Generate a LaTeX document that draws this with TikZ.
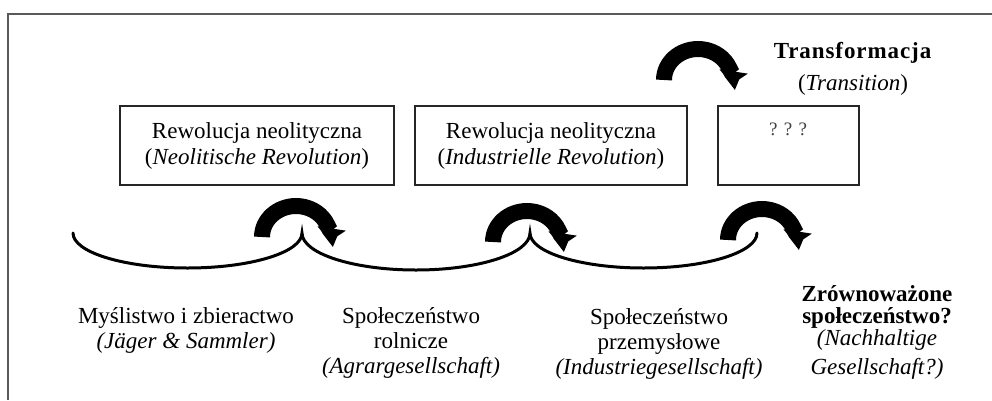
\documentclass[tikz,border=0pt]{standalone}
\usepackage{fontspec}
\setmainfont{Liberation Serif}
\usetikzlibrary{arrows.meta}
\tikzset{
  frame/.style={draw=black!65, line width=2pt},
  box/.style={draw=black!85, line width=1.3pt, rectangle, inner sep=0pt, align=center,
    font=\fontsize{23}{26}\selectfont},
  lbl/.style={align=center, inner sep=0pt, anchor=base, font=\fontsize{23}{25}\selectfont},
  qm/.style={inner sep=0pt, anchor=base, text=black!75, font=\fontsize{19}{22}\selectfont},
  wave/.style={line width=3pt, line cap=round},
  turn/.style={line width=16pt, -{Triangle[length=13pt,width=28pt]}}
}
\begin{document}
\begin{tikzpicture}[x=1pt,y=1pt]
\useasboundingbox (0,0) rectangle (992,-400);
% frame
\coordinate (fr1) at (992,-14);
\coordinate (fr2) at (8,-14);
\coordinate (fr3) at (8,-400);
\draw[frame] (fr1) -- (fr2) -- (fr3);
% boxes
\node[box, minimum width=274pt, minimum height=79pt] (b1) at (257,-145.5)
  {Rewolucja neolityczna\\(\textit{Neolitische Revolution})};
\node[box, minimum width=272pt, minimum height=79pt] (b2) at (551,-145.5)
  {Rewolucja neolityczna\\(\textit{Industrielle Revolution})};
\node[box, minimum width=141pt, minimum height=79pt] (b3) at (788.5,-145.5) {};
\node[qm] (q) at (788,-135) {? ? ?};
% transformation label
\node[lbl] (tr) at (853,-90) {{\addfontfeature{LetterSpace=4}\textbf{Transformacja}}\\[7pt](\textit{Transition})};
% wave
\coordinate (w0) at (73,-233);
\draw[wave] (w0) arc[start angle=180,end angle=360,x radius=114.5,y radius=35]
  coordinate (w1)
  arc[start angle=180,end angle=360,x radius=114,y radius=37]
  coordinate (w2)
  arc[start angle=180,end angle=360,x radius=113.5,y radius=35]
  coordinate (w3);
% turning arrows
\coordinate (t0) at (664,-80);
\coordinate (t1) at (262,-237);
\coordinate (t2) at (493,-242);
\coordinate (t3) at (728,-240);
\draw[turn] (t0) arc[start angle=180,end angle=-8,x radius=34,y radius=31];
\draw[turn] (t1) arc[start angle=180,end angle=-8,x radius=34,y radius=31];
\draw[turn] (t2) arc[start angle=180,end angle=-8,x radius=34,y radius=31];
\draw[turn] (t3) arc[start angle=180,end angle=-8,x radius=34,y radius=31];
% bottom labels
\node[lbl] (l1) at (186,-348) {Myślistwo i zbieractwo\\\textit{(Jäger \& Sammler)}};
\node[lbl] (l2) at (411,-373) {Społeczeństwo\\rolnicze\\\textit{(Agrargesellschaft)}};
\node[lbl] (l3) at (659,-374) {Społeczeństwo\\przemysłowe\\\textit{(Industriegesellschaft)}};
\node[lbl, font=\fontsize{23}{22}\selectfont] (l4) at (877,-374)
  {\textbf{Zrównoważone}\\\textbf{społeczeństwo?}\\\textit{(Nachhaltige}\\[7pt]\textit{Gesellschaft?)}};
\end{tikzpicture}
\end{document}
